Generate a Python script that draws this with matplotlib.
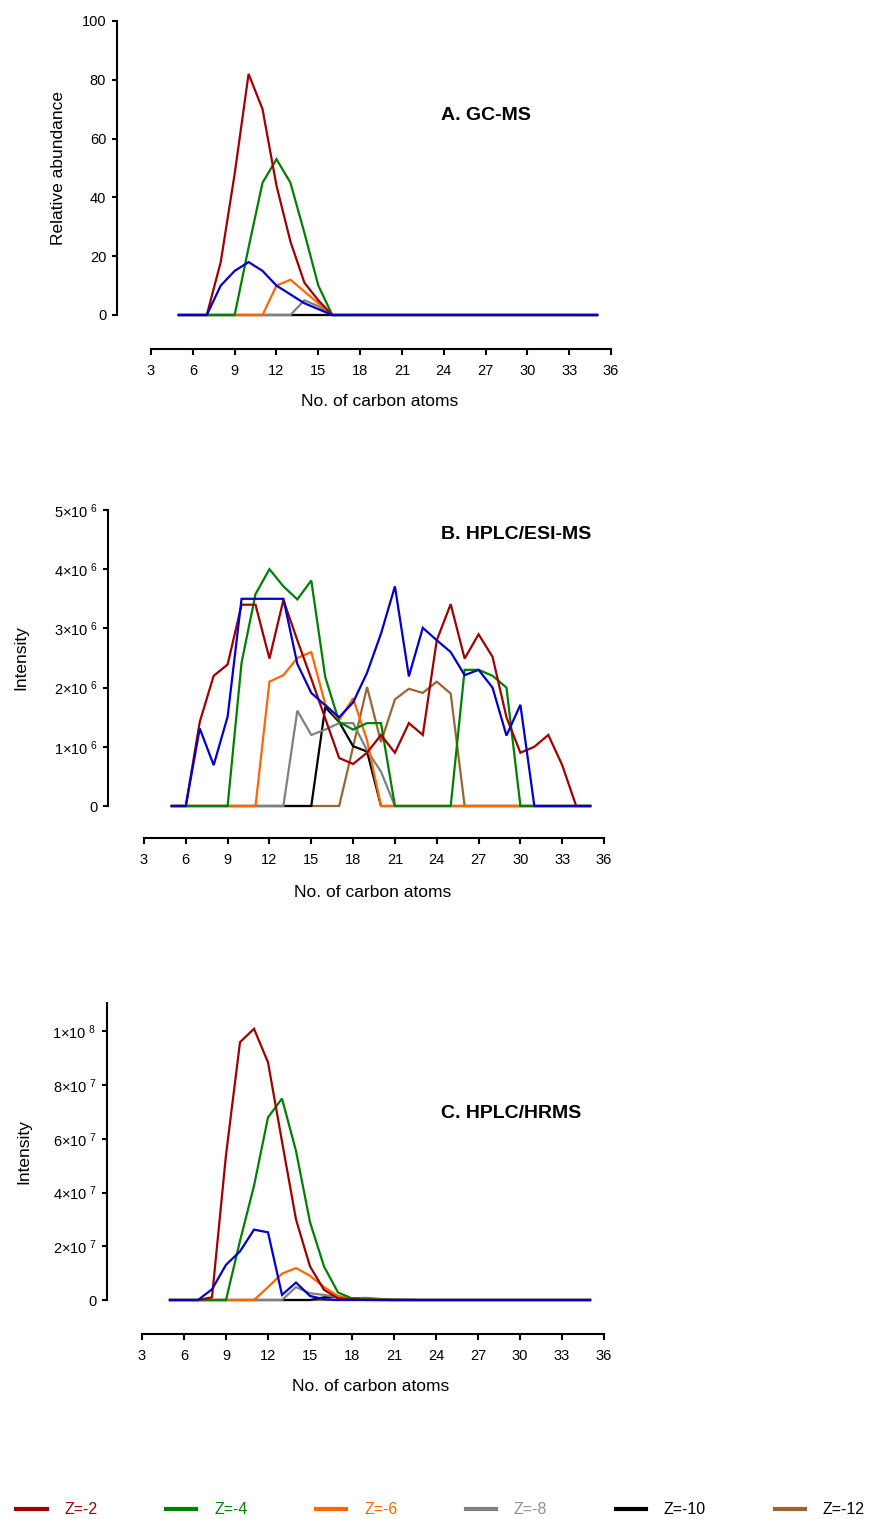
import matplotlib
matplotlib.use("Agg")
import matplotlib.pyplot as plt
from matplotlib.lines import Line2D
from matplotlib.ticker import FuncFormatter
import numpy as np

plt.rcParams['font.family'] = ['Liberation Sans', 'DejaVu Sans']
plt.rcParams['mathtext.fontset'] = 'custom'
plt.rcParams['mathtext.rm'] = 'Liberation Sans'
plt.rcParams['mathtext.default'] = 'regular'

# ---- carbon number axis (C5 .. C35) ----
carbons = np.arange(5, 36)
xticks = np.arange(3, 37, 3)

z_labels = ["Z=-2", "Z=-4", "Z=-6", "Z=-8", "Z=-10", "Z=-12"]
z_colors = ["#a00000", "#008000", "#ff6600", "#808080", "#000000", "#996633"]
z_text_colors = ["#a00000", "#008000", "#ff6600", "#909090", "#000000", "#000000"]
blue = "#0000cc"

# ---- A. GC-MS, relative abundance ----
gc_z2 = [0, 0, 0, 18, 48, 82, 70, 44, 25, 11, 5, 0, 0, 0, 0, 0, 0, 0, 0, 0, 0, 0, 0, 0, 0, 0, 0, 0, 0, 0, 0]
gc_z4 = [0, 0, 0, 0, 0, 23, 45, 53, 45, 28, 10, 0, 0, 0, 0, 0, 0, 0, 0, 0, 0, 0, 0, 0, 0, 0, 0, 0, 0, 0, 0]
gc_z6 = [0, 0, 0, 0, 0, 0, 0, 10, 12, 8, 4, 0, 0, 0, 0, 0, 0, 0, 0, 0, 0, 0, 0, 0, 0, 0, 0, 0, 0, 0, 0]
gc_z8 = [0, 0, 0, 0, 0, 0, 0, 0, 0, 5, 3, 0, 0, 0, 0, 0, 0, 0, 0, 0, 0, 0, 0, 0, 0, 0, 0, 0, 0, 0, 0]
gc_z10 = [0, 0, 0, 0, 0, 0, 0, 0, 0, 0, 0, 0, 0, 0, 0, 0, 0, 0, 0, 0, 0, 0, 0, 0, 0, 0, 0, 0, 0, 0, 0]
gc_z12 = [0, 0, 0, 0, 0, 0, 0, 0, 0, 0, 0, 0, 0, 0, 0, 0, 0, 0, 0, 0, 0, 0, 0, 0, 0, 0, 0, 0, 0, 0, 0]
gc_z0 = [0, 0, 0, 10, 15, 18, 15, 10, 7, 4, 2, 0, 0, 0, 0, 0, 0, 0, 0, 0, 0, 0, 0, 0, 0, 0, 0, 0, 0, 0, 0]

# ---- B. HPLC/ESI-MS, intensity in units of 1e6 ----
esi_z2 = [0, 0, 1.42, 2.2, 2.39, 3.4, 3.4, 2.49, 3.48, 2.8, 2.15, 1.48, 0.81, 0.71, 0.9, 1.2,
          0.9, 1.4, 1.2, 2.8, 3.41, 2.49, 2.9, 2.52, 1.5, 0.9, 1.0, 1.2, 0.69, 0, 0]
esi_z4 = [0, 0, 0, 0, 0, 2.42, 3.58, 4.0, 3.71, 3.49, 3.81, 2.18, 1.42, 1.29, 1.4, 1.4,
          0, 0, 0, 0, 0, 2.3, 2.3, 2.2, 2.0, 0, 0, 0, 0, 0, 0]
esi_z6 = [0, 0, 0, 0, 0, 0, 0, 2.1, 2.21, 2.5, 2.6, 1.72, 1.45, 1.82, 1.11, 0,
          0, 0, 0, 0, 0, 0, 0, 0, 0, 0, 0, 0, 0, 0, 0]
esi_z8 = [0, 0, 0, 0, 0, 0, 0, 0, 0, 1.61, 1.2, 1.29, 1.4, 1.4, 0.94, 0.58,
          0, 0, 0, 0, 0, 0, 0, 0, 0, 0, 0, 0, 0, 0, 0]
esi_z10 = [0, 0, 0, 0, 0, 0, 0, 0, 0, 0, 0, 1.67, 1.42, 1.01, 0.92, 0,
           0, 0, 0, 0, 0, 0, 0, 0, 0, 0, 0, 0, 0, 0, 0]
esi_z12 = [0, 0, 0, 0, 0, 0, 0, 0, 0, 0, 0, 0, 0, 1.0, 2.01, 1.08,
           1.8, 1.98, 1.91, 2.1, 1.9, 0, 0, 0, 0, 0, 0, 0, 0, 0, 0]
esi_z0 = [0, 0, 1.31, 0.69, 1.51, 3.5, 3.5, 3.5, 3.5, 2.4, 1.91, 1.7, 1.5, 1.75, 2.25, 2.91,
          3.71, 2.19, 3.01, 2.8, 2.6, 2.21, 2.3, 2.0, 1.19, 1.71, 0, 0, 0, 0, 0]

# ---- C. HPLC/HRMS, intensity in units of 1e7 ----
hr_z2 = [0, 0, 0, 0.1, 5.4, 9.6, 10.1, 8.85, 5.9, 3.0, 1.25, 0.38, 0.06, 0.02, 0, 0,
         0, 0, 0, 0, 0, 0, 0, 0, 0, 0, 0, 0, 0, 0, 0]
hr_z4 = [0, 0, 0, 0, 0, 2.2, 4.25, 6.8, 7.5, 5.55, 2.9, 1.25, 0.28, 0.06, 0.02, 0.01,
         0, 0, 0, 0, 0, 0, 0, 0, 0, 0, 0, 0, 0, 0, 0]
hr_z6 = [0, 0, 0, 0, 0, 0, 0, 0.48, 0.98, 1.19, 0.9, 0.48, 0.15, 0.05, 0.02, 0.01,
         0, 0, 0, 0, 0, 0, 0, 0, 0, 0, 0, 0, 0, 0, 0]
hr_z8 = [0, 0, 0, 0, 0, 0, 0, 0, 0, 0.48, 0.25, 0.19, 0.1, 0.04, 0.01, 0,
         0, 0, 0, 0, 0, 0, 0, 0, 0, 0, 0, 0, 0, 0, 0]
hr_z10 = [0, 0, 0, 0, 0, 0, 0, 0, 0, 0, 0, 0.1, 0.12, 0.06, 0.02, 0,
          0, 0, 0, 0, 0, 0, 0, 0, 0, 0, 0, 0, 0, 0, 0]
hr_z12 = [0, 0, 0, 0, 0, 0, 0, 0, 0, 0, 0, 0, 0, 0.06, 0.08, 0.04,
          0.02, 0.01, 0, 0, 0, 0, 0, 0, 0, 0, 0, 0, 0, 0, 0]
hr_z0 = [0, 0, 0, 0.4, 1.31, 1.81, 2.62, 2.52, 0.19, 0.65, 0.15, 0.03, 0, 0, 0, 0,
         0, 0, 0, 0, 0, 0, 0, 0, 0, 0, 0, 0, 0, 0, 0]

W, H = 881, 1519
fig = plt.figure(figsize=(W / 100, H / 100), dpi=100)


def px_axes(left, right, top, bottom):
    # axes placed from pixel edges
    return fig.add_axes([left / W, 1 - bottom / H, (right - left) / W, (bottom - top) / H])


def draw_panel(ax, series, scale, xlim, ylim, yticks, yfmt, xoff, ylab, ylab_x, xlab_top, xlab_cx, px):
    # px = (left, right, top, bottom) in pixels, used for label placement
    left, right, top, bottom = px
    z2, z4, z6, z8, z10, z12, z0 = [np.array(s) * scale for s in series]
    # drawing order keeps blue on top of the baseline
    for vals, col in [(z12, z_colors[5]), (z10, z_colors[4]), (z8, z_colors[3]),
                      (z6, z_colors[2]), (z4, z_colors[1]), (z2, z_colors[0]), (z0, blue)]:
        ax.plot(carbons, vals, color=col, lw=1.6, clip_on=False, solid_joinstyle='miter')

    ax.set_xlim(*xlim)
    ax.set_ylim(*ylim)
    for s in ['top', 'right']:
        ax.spines[s].set_visible(False)
    for s in ['left', 'bottom']:
        ax.spines[s].set_linewidth(1.5)
    ax.spines['bottom'].set_position(('outward', xoff * 0.72))
    ax.spines['bottom'].set_bounds(3, 36)

    ax.set_xticks(xticks)
    ax.set_yticks(yticks)
    ax.yaxis.set_major_formatter(FuncFormatter(yfmt))
    ax.tick_params(axis='y', length=3.8, width=1.5, pad=4, labelsize=10.5)
    ax.tick_params(axis='x', length=4.3, width=1.5, pad=6.5, labelsize=10.5)

    ax.set_ylabel(ylab, fontsize=12.5)
    ax.yaxis.set_label_coords((ylab_x - left) / (right - left), 0.5)
    ax.set_xlabel("No. of carbon atoms", fontsize=12.5)
    ax.xaxis.set_label_coords((xlab_cx - left) / (right - left), (bottom - xlab_top) / (bottom - top))


def plain(v, pos):
    return "%d" % v


def sci(exp):
    def f(v, pos):
        if v == 0:
            return "0"
        return "%d\u00d710$^{\\ %d}$" % (round(v / 10 ** exp), exp)
    return f


def sci_c(v, pos):
    if v == 0:
        return "0"
    if v >= 1e8:
        return "1\u00d710$^{\\ 8}$"
    return "%d\u00d710$^{\\ 7}$" % round(v / 1e7)


# -------- A. GC-MS --------
pa = (117, 625, 21, 315)
ax_a = px_axes(*pa)
draw_panel(ax_a, [gc_z2, gc_z4, gc_z6, gc_z8, gc_z10, gc_z12, gc_z0], 1.0,
           (0.56, 37), (0, 100), np.arange(0, 101, 20), plain, 34,
           "Relative abundance", 66, 394, 380, pa)

# -------- B. HPLC/ESI-MS --------
pb = (108, 618, 510, 806)
ax_b = px_axes(*pb)
draw_panel(ax_b, [esi_z2, esi_z4, esi_z6, esi_z8, esi_z10, esi_z12, esi_z0], 1e6,
           (0.42, 37), (0, 5e6), np.arange(0, 5.1e6, 1e6), sci(6), 32,
           "Intensity", 28, 885, 373, pb)

# -------- C. HPLC/HRMS --------
pc = (107, 618, 1003, 1300)
ax_c = px_axes(*pc)
draw_panel(ax_c, [hr_z2, hr_z4, hr_z6, hr_z8, hr_z10, hr_z12, hr_z0], 1e7,
           (0.5, 37), (0, 1.106e8), np.arange(0, 1.01e8, 2e7), sci_c, 34,
           "Intensity", 31, 1379, 371, pc)

# panel titles
for label, ypx in [("A. GC-MS", 115), ("B. HPLC/ESI-MS", 535), ("C. HPLC/HRMS", 1113)]:
    fig.text(441 / W, 1 - ypx / H, label, fontsize=14, fontweight='bold', ha='left', va='center')

# shared legend along the bottom
handles = [Line2D([], [], color=c, lw=3) for c in z_colors]
fig.legend(handles, z_labels, loc='center', bbox_to_anchor=(0.5, 1 - 1510 / H), ncol=6,
           frameon=False, fontsize=11.5, handlelength=1.9, handletextpad=1.1,
           columnspacing=4.3, labelcolor=z_text_colors)

fig.savefig("out.png", dpi=100)
